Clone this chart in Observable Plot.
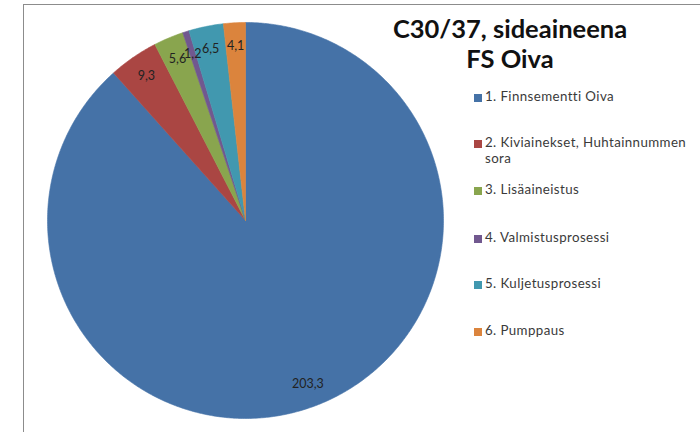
<!DOCTYPE html>
<html>
<head>
<meta charset="utf-8">
<script src="https://cdn.jsdelivr.net/npm/d3@7"></script>
<script src="https://cdn.jsdelivr.net/npm/@observablehq/plot@0.6"></script>
<style>
  html, body { margin: 0; padding: 0; background: #fff; }
  #wrap { position: relative; width: 700px; height: 432px; overflow: hidden; font-family: Lato, "Open Sans", sans-serif; }
  #frame { position: absolute; left: 23px; top: 4px; width: 700px; height: 440px; border-left: 1.5px solid #8c8c8c; border-top: 1.5px solid #8c8c8c; box-sizing: border-box; }
  #chart { position: absolute; left: 0; top: 0; }
  #title { position: absolute; left: 360px; width: 300px; top: 13px; text-align: center; font-weight: bold; font-size: 25.5px; line-height: 30px; color: #111; }
  #legend { position: absolute; left: 474px; top: 88px; width: 226px; font-size: 13.3px; letter-spacing: 0.4px; color: #3a3a3a; }
  .item { position: absolute; left: 0; padding-left: 11px; line-height: 16px; width: 207px; }
  .sw { position: absolute; left: 0; top: 6px; width: 8px; height: 8px; }
</style>
</head>
<body>
<div id="wrap">
  <div id="frame"></div>
  <div id="chart"></div>
  <div id="title">C30/37, sideaineena<br>FS Oiva</div>
  <div id="legend"></div>
</div>
<script>
const categories = ["1. Finnsementti Oiva", "2. Kiviainekset, Huhtainnummen sora", "3. Lisäaineistus", "4. Valmistusprosessi", "5. Kuljetusprosessi", "6. Pumppaus"];
const values = [203.3, 9.3, 5.6, 1.2, 6.5, 4.1];
const valueLabels = ["203,3", "9,3", "5,6", "1,2", "6,5", "4,1"];
const colors = ["#4572A7", "#AA4643", "#89A54E", "#71588F", "#4198AF", "#DB843D"];
const legendTops = [0, 46, 93, 141, 187, 234];

const pie = d3.pie().sort(null).value(d => d.value)(categories.map((c, i) => ({cat: c, value: values[i], label: valueLabels[i]})));

const polys = [];
pie.forEach(a => {
  polys.push({cat: a.data.cat, x: 0, y: 0});
  const n = Math.max(2, Math.ceil((a.endAngle - a.startAngle) / (Math.PI / 360)));
  for (let k = 0; k <= n; k++) {
    const t = a.startAngle + (a.endAngle - a.startAngle) * k / n;
    polys.push({cat: a.data.cat, x: Math.sin(t), y: Math.cos(t)});
  }
  polys.push({cat: a.data.cat, x: 0, y: 0});
});
const labelR = 0.884;
const labels = pie.map(a => {
  const m = (a.startAngle + a.endAngle) / 2;
  return {label: a.data.label, x: labelR * Math.sin(m), y: labelR * Math.cos(m)};
});

const plot = Plot.plot({
  width: 700,
  height: 432,
  margin: 0,
  x: {domain: [-1, 1], range: [47, 443], axis: null},
  y: {domain: [-1, 1], range: [418, 22], axis: null},
  color: {domain: categories, range: colors},
  style: {background: "transparent", fontFamily: "Lato, 'Open Sans', sans-serif"},
  marks: [
    Plot.line(polys, {x: "x", y: "y", z: "cat", fill: "cat", stroke: "cat", strokeWidth: 0.6, curve: "linear"}),
    Plot.text(labels, {x: "x", y: "y", text: "label", fontSize: 12.5, fill: "#222"})
  ]
});
document.getElementById("chart").appendChild(plot);

const leg = document.getElementById("legend");
categories.forEach((c, i) => {
  const it = document.createElement("div");
  it.className = "item";
  it.style.top = legendTops[i] + "px";
  const sw = document.createElement("span");
  sw.className = "sw";
  sw.style.background = colors[i];
  it.appendChild(sw);
  it.appendChild(document.createTextNode(c));
  leg.appendChild(it);
});
</script>
</body>
</html>
